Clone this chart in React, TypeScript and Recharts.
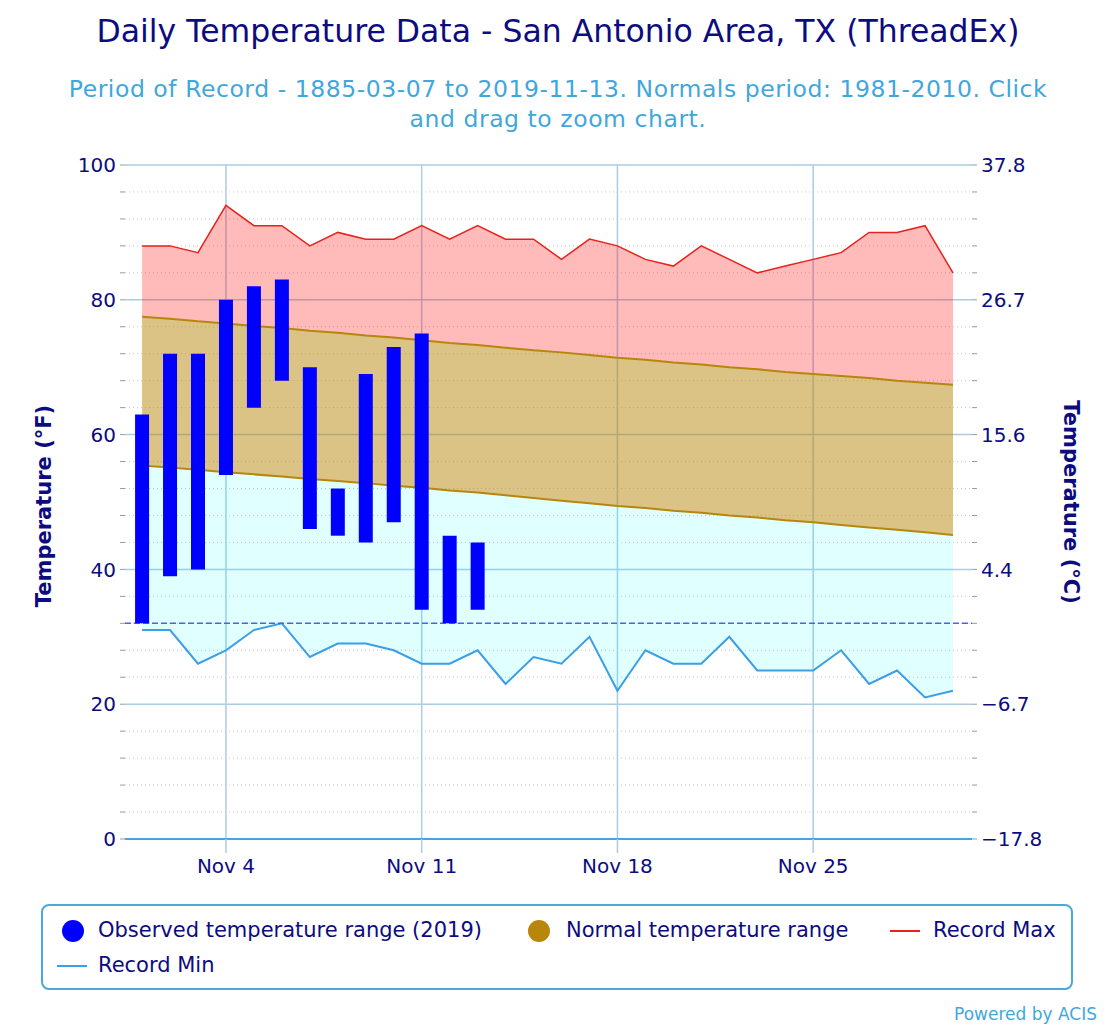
import {
  ComposedChart,
  Area,
  Line,
  Bar,
  XAxis,
  YAxis,
  ReferenceLine,
  Label,
} from "recharts";

// November days
const days = [
  1, 2, 3, 4, 5, 6, 7, 8, 9, 10, 11, 12, 13, 14, 15, 16, 17, 18, 19, 20, 21,
  22, 23, 24, 25, 26, 27, 28, 29, 30,
];

const recordMax = [
  88, 88, 87, 94, 91, 91, 88, 90, 89, 89, 91, 89, 91, 89, 89, 86, 89, 88, 86,
  85, 88, 86, 84, 85, 86, 87, 90, 90, 91, 84,
];

const recordMin = [
  31, 31, 26, 28, 31, 32, 27, 29, 29, 28, 26, 26, 28, 23, 27, 26, 30, 22, 28,
  26, 26, 30, 25, 25, 25, 28, 23, 25, 21, 22,
];

const normalMax = [
  77.5, 77.2, 76.8, 76.5, 76.1, 75.8, 75.4, 75.1, 74.7, 74.4, 74.0, 73.6, 73.3,
  72.9, 72.5, 72.2, 71.8, 71.4, 71.1, 70.7, 70.4, 70.0, 69.7, 69.3, 69.0, 68.7,
  68.4, 68.0, 67.7, 67.4,
];

const normalMin = [
  55.4, 55.1, 54.8, 54.4, 54.1, 53.8, 53.4, 53.1, 52.8, 52.4, 52.1, 51.7, 51.4,
  51.0, 50.6, 50.2, 49.8, 49.4, 49.1, 48.7, 48.4, 48.0, 47.7, 47.3, 47.0, 46.6,
  46.2, 45.9, 45.5, 45.1,
];

// 2019 observations (Nov 1 - Nov 13)
const observedLow = [32, 39, 40, 54, 64, 68, 46, 45, 44, 47, 34, 32, 34];
const observedHigh = [63, 72, 72, 80, 82, 83, 70, 52, 69, 73, 75, 45, 44];

const dateTicks = [4, 11, 18, 25];
const majorTicks = [0, 20, 40, 60, 80, 100];
const axisTicks = [
  0, 4, 8, 12, 16, 20, 24, 28, 32, 36, 40, 44, 48, 52, 56, 60, 64, 68, 72, 76,
  80, 84, 88, 92, 96, 100,
];
const freezing = 32;

const data = days.map((day, i) => ({
  day,
  recordMax: recordMax[i],
  recordMin: recordMin[i],
  normalMax: normalMax[i],
  normalMin: normalMin[i],
  upperBand: [normalMax[i], recordMax[i]],
  normalBand: [normalMin[i], normalMax[i]],
  lowerBand: [recordMin[i], normalMin[i]],
  observed:
    i < observedLow.length ? [observedLow[i], observedHigh[i]] : null,
}));

const NAVY = "#0c0c80";
const SKY = "#3fa7dc";
const FONT = "'DejaVu Sans', Verdana, sans-serif";
const GRID = "#aacce4";

const toCelsius = (v: number) => {
  if (!majorTicks.includes(v)) return "";
  return (((v - 32) * 5) / 9).toFixed(1).replace("-", "\u2212");
};

const AxisTitle = ({ x, y, angle, text }: any) => (
  <text
    x={x}
    y={y}
    transform={`rotate(${angle}, ${x}, ${y})`}
    textAnchor="middle"
    dominantBaseline="central"
    style={{ fontSize: 21, fontWeight: "bold", fill: NAVY, fontFamily: FONT }}
  >
    {text}
  </text>
);

export default function App() {
  return (
    <div
      style={{
        position: "relative",
        width: 1116,
        height: 1032,
        margin: "-8px 0 0 -8px",
        background: "#fff",
        fontFamily: FONT,
      }}
    >
      <div
        style={{
          position: "absolute",
          top: 13,
          left: 0,
          width: 1116,
          textAlign: "center",
          fontSize: 31.5,
          color: NAVY,
        }}
      >
        Daily Temperature Data - San Antonio Area, TX (ThreadEx)
      </div>
      <div
        style={{
          position: "absolute",
          top: 74,
          left: 50,
          width: 1016,
          textAlign: "center",
          fontSize: 23.5,
          letterSpacing: 0.55,
          lineHeight: "30px",
          color: SKY,
        }}
      >
        Period of Record - 1885-03-07 to 2019-11-13. Normals period: 1981-2010.
        Click
        <br />
        and drag to zoom chart.
      </div>

      <div style={{ position: "absolute", top: 0, left: 0 }}>
        <ComposedChart
          width={1116}
          height={900}
          data={data}
          margin={{ top: 165, right: 84, bottom: 21, left: 65 }}
        >
          {axisTicks
            .filter((v) => !majorTicks.includes(v))
            .map((v) => (
              <ReferenceLine
                key={`m${v}`}
                yAxisId="f"
                y={v}
                stroke="#c8c8c8"
                strokeDasharray="1 3"
                zIndex={-10}
              />
            ))}
          {majorTicks
            .filter((v) => v > 0)
            .map((v) => (
              <ReferenceLine
                key={`M${v}`}
                yAxisId="f"
                y={v}
                stroke={GRID}
                strokeWidth={1.5}
                zIndex={-10}
              />
            ))}
          {dateTicks.map((d) => (
            <ReferenceLine
              key={`d${d}`}
              yAxisId="f"
              x={d}
              stroke={GRID}
              strokeWidth={1.5}
              zIndex={-10}
            />
          ))}
          <XAxis
            dataKey="day"
            type="number"
            domain={[0.39, 30.68]}
            ticks={dateTicks}
            tickFormatter={(d) => `Nov ${d}`}
            interval={0}
            height={40}
            tickSize={14}
            tickMargin={6}
            axisLine={{ stroke: "#4aa3df", strokeWidth: 2 }}
            tickLine={{ stroke: GRID, strokeWidth: 1.5 }}
            tick={{ fill: NAVY, fontSize: 20, fontFamily: FONT }}
            allowDataOverflow
          />
          <YAxis
            yAxisId="f"
            domain={[0, 100]}
            ticks={axisTicks}
            interval={0}
            width={60}
            axisLine={false}
            tickSize={5}
            tickMargin={4}
            tickLine={{ stroke: "#999" }}
            tickFormatter={(v) => (majorTicks.includes(v) ? String(v) : "")}
            tick={{ fill: NAVY, fontSize: 20, fontFamily: FONT }}
          >
            <Label
              content={() => (
                <AxisTitle x={44} y={506} angle={-90} text="Temperature (°F)" />
              )}
            />
          </YAxis>
          <YAxis
            yAxisId="c"
            orientation="right"
            domain={[0, 100]}
            ticks={axisTicks}
            interval={0}
            width={60}
            axisLine={false}
            tickSize={5}
            tickMargin={4}
            tickLine={{ stroke: "#999" }}
            tickFormatter={toCelsius}
            tick={{ fill: NAVY, fontSize: 20, fontFamily: FONT }}
          >
            <Label
              content={() => (
                <AxisTitle x={1071} y={502} angle={90} text="Temperature (°C)" />
              )}
            />
          </YAxis>

          <Area
            yAxisId="f"
            type="linear"
            dataKey="upperBand"
            stroke="none"
            fill="rgba(255,0,0,0.27)"
            fillOpacity={1}
            isAnimationActive={false}
          />
          <Area
            yAxisId="f"
            type="linear"
            dataKey="normalBand"
            stroke="none"
            fill="rgba(184,134,11,0.5)"
            fillOpacity={1}
            isAnimationActive={false}
          />
          <Area
            yAxisId="f"
            type="linear"
            dataKey="lowerBand"
            stroke="none"
            fill="rgba(0,255,255,0.12)"
            fillOpacity={1}
            isAnimationActive={false}
          />
          <Line
            yAxisId="f"
            type="linear"
            dataKey="normalMax"
            stroke="#b8860b"
            strokeWidth={2}
            dot={false}
            isAnimationActive={false}
          />
          <Line
            yAxisId="f"
            type="linear"
            dataKey="normalMin"
            stroke="#b8860b"
            strokeWidth={2}
            dot={false}
            isAnimationActive={false}
          />
          {/* same 0-100 domain on both axes, so record lines can live on the °C axis */}
          <Line
            yAxisId="c"
            type="linear"
            dataKey="recordMax"
            stroke="#e8211b"
            strokeWidth={1.5}
            dot={false}
            isAnimationActive={false}
          />
          <Line
            yAxisId="c"
            type="linear"
            dataKey="recordMin"
            stroke="#3a9fe6"
            strokeWidth={2}
            dot={false}
            isAnimationActive={false}
          />
          <ReferenceLine
            yAxisId="f"
            y={freezing}
            stroke="#4f62e6"
            strokeWidth={1.5}
            strokeDasharray="6 3"
          />
          <Bar
            yAxisId="f"
            dataKey="observed"
            fill="#0000ff"
            barSize={14}
            isAnimationActive={false}
            zIndex={1000}
          />
        </ComposedChart>
      </div>

      <div
        style={{
          position: "absolute",
          left: 41,
          top: 904,
          width: 1028,
          height: 82,
          border: "2px solid #4aa8de",
          borderRadius: 8,
          fontSize: 21,
          color: NAVY,
        }}
      >
        <div style={{ position: "absolute", left: 19, top: 14, width: 22, height: 22, borderRadius: 11, background: "#0000ff" }} />
        <div style={{ position: "absolute", left: 55, top: 12 }}>
          Observed temperature range (2019)
        </div>
        <div style={{ position: "absolute", left: 485, top: 14, width: 22, height: 22, borderRadius: 11, background: "#b8860b" }} />
        <div style={{ position: "absolute", left: 523, top: 12 }}>
          Normal temperature range
        </div>
        <div style={{ position: "absolute", left: 847, top: 24, width: 30, height: 2, background: "#e8211b" }} />
        <div style={{ position: "absolute", left: 890, top: 12 }}>Record Max</div>
        <div style={{ position: "absolute", left: 14, top: 59, width: 30, height: 2, background: "#3a9fe6" }} />
        <div style={{ position: "absolute", left: 55, top: 47 }}>Record Min</div>
      </div>

      <div
        style={{
          position: "absolute",
          right: 19,
          top: 1004,
          fontSize: 17,
          color: SKY,
        }}
      >
        Powered by ACIS
      </div>
    </div>
  );
}
